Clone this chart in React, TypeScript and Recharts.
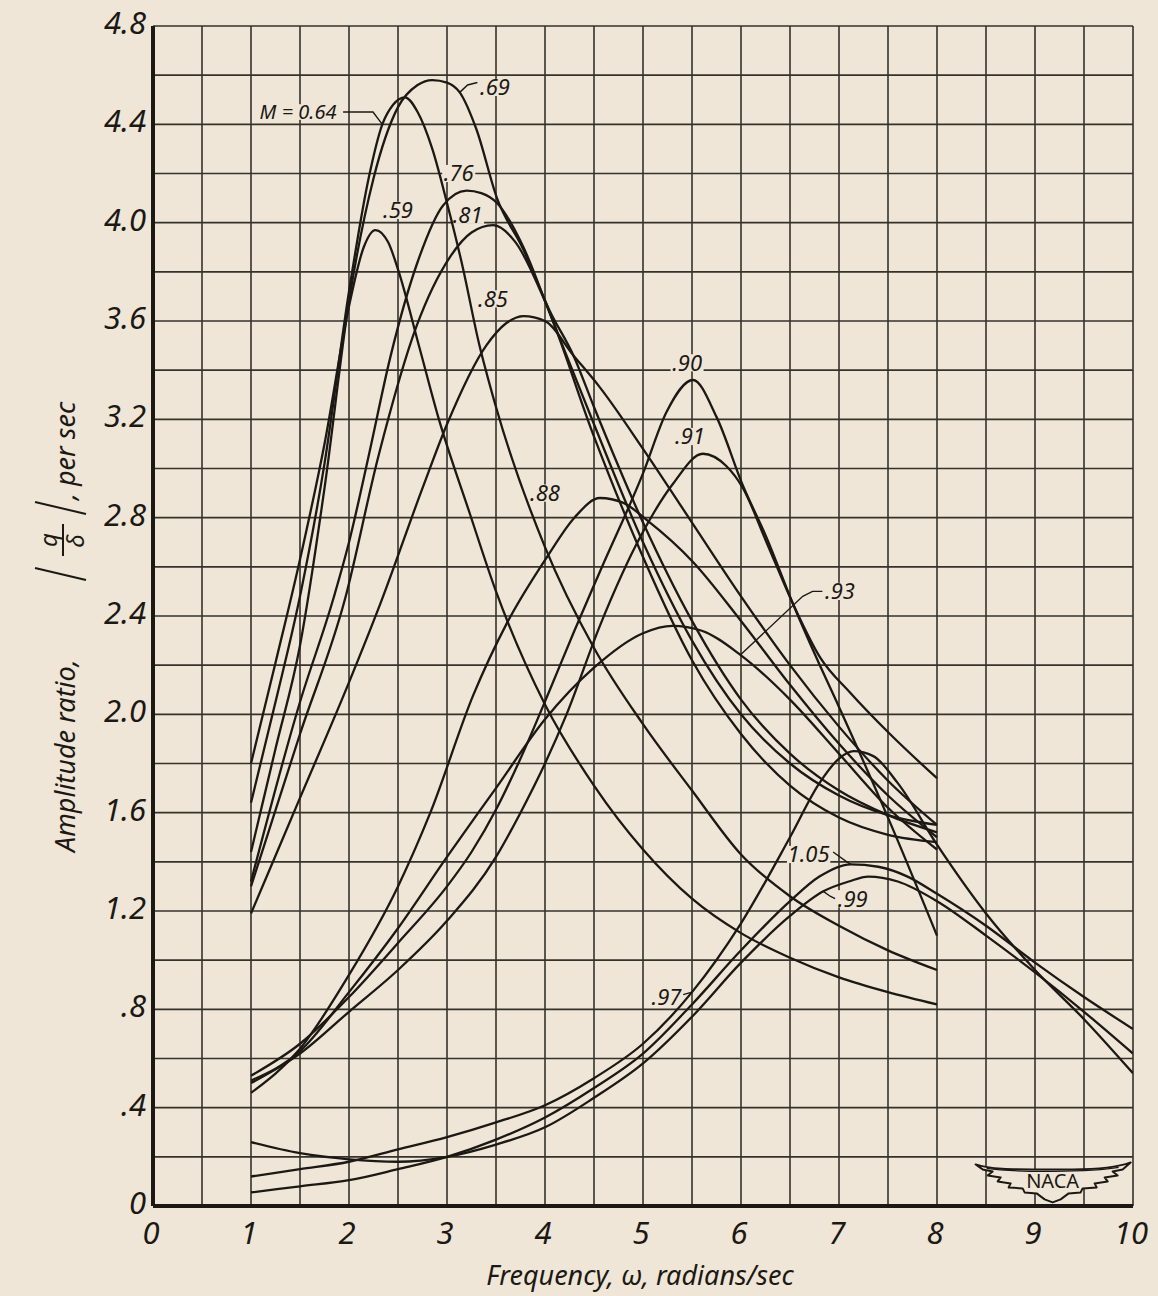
import React from 'react';
import { LineChart, Line, XAxis, YAxis, CartesianGrid, ReferenceDot } from 'recharts';

const PAPER = '#efe6d7';
const INK = '#1c1915';
const GRID_INK = '#34322b';
const FONT = '"Noto Sans", "DejaVu Sans", sans-serif';

// Axis ticks and grid rulings
const FREQ_TICKS = [0, 1, 2, 3, 4, 5, 6, 7, 8, 9, 10];
const AMP_TICKS = [0, 0.4, 0.8, 1.2, 1.6, 2.0, 2.4, 2.8, 3.2, 3.6, 4.0, 4.4, 4.8];
const GRID_FREQ = [0, 0.5, 1, 1.5, 2, 2.5, 3, 3.5, 4, 4.5, 5, 5.5, 6, 6.5, 7, 7.5, 8, 8.5, 9, 9.5, 10];
const GRID_AMP = [0, 0.2, 0.4, 0.6, 0.8, 1.0, 1.2, 1.4, 1.6, 1.8, 2.0, 2.2, 2.4, 2.6, 2.8, 3.0, 3.2, 3.4, 3.6, 3.8, 4.0, 4.2, 4.4, 4.6, 4.8];

type Pt = [number, number];

// Amplitude ratio |q/delta| vs frequency omega, one curve per Mach number
const m059: Pt[] = [[1.0, 1.80], [1.25, 2.21], [1.5, 2.63], [1.75, 3.10], [2.0, 3.66], [2.15, 3.90], [2.27, 3.97], [2.4, 3.92], [2.5, 3.81], [2.72, 3.49], [2.91, 3.21], [3.23, 2.82], [3.5, 2.50], [4.0, 2.04], [4.5, 1.71], [5.0, 1.45], [5.5, 1.25], [6.0, 1.11], [6.5, 1.01], [7.0, 0.93], [7.5, 0.87], [8.0, 0.82]];
const m064: Pt[] = [[1.0, 1.64], [1.25, 2.05], [1.5, 2.48], [1.75, 3.02], [2.0, 3.72], [2.2, 4.18], [2.34, 4.40], [2.45, 4.48], [2.57, 4.51], [2.7, 4.45], [2.85, 4.30], [3.0, 4.08], [3.16, 3.82], [3.32, 3.52], [3.5, 3.25], [4.0, 2.68], [4.5, 2.27], [5.0, 1.96], [5.5, 1.69], [6.0, 1.43], [6.5, 1.26], [7.0, 1.14], [7.5, 1.04], [8.0, 0.96]];
const m069: Pt[] = [[1.0, 1.44], [1.25, 1.86], [1.5, 2.28], [1.75, 2.92], [2.0, 3.68], [2.25, 4.18], [2.5, 4.47], [2.7, 4.56], [2.85, 4.58], [3.0, 4.57], [3.13, 4.53], [3.3, 4.38], [3.51, 4.10], [3.78, 3.89], [4.05, 3.64], [4.29, 3.46], [4.5, 3.25], [5.0, 2.78], [5.5, 2.38], [6.0, 2.06], [6.5, 1.84], [7.0, 1.69], [7.5, 1.59], [8.0, 1.52]];
const m076: Pt[] = [[1.0, 1.32], [1.5, 2.05], [1.84, 2.47], [2.0, 2.70], [2.2, 3.05], [2.42, 3.45], [2.7, 3.84], [2.96, 4.07], [3.2, 4.13], [3.35, 4.12], [3.51, 4.08], [3.78, 3.90], [4.05, 3.63], [4.5, 3.18], [5.0, 2.70], [5.5, 2.30], [6.0, 2.00], [6.5, 1.80], [7.0, 1.67], [7.5, 1.59], [8.0, 1.55]];
const m081: Pt[] = [[1.0, 1.30], [1.5, 1.92], [1.96, 2.47], [2.3, 3.05], [2.69, 3.58], [3.03, 3.86], [3.25, 3.96], [3.47, 3.99], [3.7, 3.92], [4.0, 3.68], [4.5, 3.13], [5.0, 2.64], [5.5, 2.22], [6.0, 1.92], [6.5, 1.71], [7.0, 1.58], [7.5, 1.51], [8.0, 1.48]];
const m085: Pt[] = [[1.0, 1.19], [1.5, 1.66], [2.0, 2.13], [2.32, 2.45], [2.75, 2.92], [3.0, 3.18], [3.4, 3.50], [3.6, 3.59], [3.78, 3.62], [4.0, 3.60], [4.29, 3.46], [4.56, 3.33], [5.0, 3.08], [5.5, 2.78], [6.0, 2.48], [6.5, 2.20], [7.0, 1.95], [7.5, 1.73], [8.0, 1.55]];
const m088: Pt[] = [[1.0, 0.46], [1.5, 0.64], [2.0, 0.94], [2.5, 1.30], [2.83, 1.60], [3.27, 2.08], [3.61, 2.37], [4.02, 2.64], [4.3, 2.80], [4.56, 2.88], [4.8, 2.86], [5.04, 2.79], [5.51, 2.62], [6.0, 2.38], [6.5, 2.12], [7.0, 1.88], [7.5, 1.67], [8.0, 1.50]];
const m090: Pt[] = [[1.0, 0.53], [1.5, 0.66], [2.0, 0.85], [2.5, 1.07], [3.0, 1.30], [3.25, 1.44], [3.51, 1.62], [3.75, 1.82], [4.05, 2.10], [4.3, 2.34], [4.56, 2.58], [5.0, 2.98], [5.24, 3.23], [5.51, 3.36], [5.75, 3.21], [6.02, 2.93], [6.26, 2.72], [6.53, 2.45], [6.77, 2.23], [7.0, 2.03], [7.5, 1.58], [8.0, 1.10]];
const m091: Pt[] = [[1.0, 0.50], [1.5, 0.62], [2.0, 0.79], [2.5, 0.96], [3.0, 1.16], [3.5, 1.42], [3.75, 1.60], [4.0, 1.80], [4.22, 2.00], [4.56, 2.36], [4.97, 2.72], [5.31, 2.94], [5.61, 3.06], [5.85, 3.01], [6.02, 2.92], [6.26, 2.70], [6.53, 2.45], [6.81, 2.23], [7.11, 2.09], [7.52, 1.92], [8.0, 1.74]];
const m093: Pt[] = [[1.0, 0.51], [1.5, 0.63], [2.0, 0.87], [2.5, 1.13], [3.0, 1.42], [3.32, 1.60], [3.5, 1.70], [4.0, 1.98], [4.5, 2.19], [5.0, 2.33], [5.3, 2.36], [5.6, 2.34], [6.0, 2.24], [6.5, 2.06], [7.0, 1.84], [7.5, 1.62], [8.0, 1.45]];
const m097: Pt[] = [[1.0, 0.12], [1.5, 0.15], [2.0, 0.18], [2.5, 0.23], [3.0, 0.28], [3.5, 0.34], [4.0, 0.41], [4.5, 0.52], [5.0, 0.66], [5.5, 0.87], [6.0, 1.15], [6.5, 1.50], [6.8, 1.72], [7.0, 1.82], [7.15, 1.85], [7.35, 1.83], [7.6, 1.72], [8.0, 1.47], [8.5, 1.19], [9.0, 0.96], [9.5, 0.76], [10.0, 0.54]];
const m099: Pt[] = [[1.0, 0.26], [1.5, 0.215], [2.0, 0.19], [2.5, 0.18], [3.0, 0.20], [3.5, 0.25], [4.0, 0.32], [4.5, 0.44], [5.0, 0.58], [5.5, 0.77], [6.0, 0.99], [6.5, 1.18], [6.84, 1.28], [7.1, 1.32], [7.3, 1.34], [7.6, 1.32], [8.0, 1.24], [8.5, 1.10], [9.0, 0.95], [9.5, 0.79], [10.0, 0.62]];
const m105: Pt[] = [[1.0, 0.055], [1.5, 0.08], [2.0, 0.105], [2.5, 0.15], [3.0, 0.20], [3.5, 0.27], [4.0, 0.36], [4.5, 0.48], [5.0, 0.62], [5.5, 0.82], [6.0, 1.04], [6.5, 1.24], [6.8, 1.34], [7.12, 1.39], [7.4, 1.38], [7.7, 1.34], [8.0, 1.27], [8.5, 1.14], [9.0, 0.99], [9.5, 0.85], [10.0, 0.72]];

const CURVES: { name: string; pts: Pt[] }[] = [
  { name: '0.59', pts: m059 }, { name: '0.64', pts: m064 }, { name: '0.69', pts: m069 },
  { name: '0.76', pts: m076 }, { name: '0.81', pts: m081 }, { name: '0.85', pts: m085 },
  { name: '0.88', pts: m088 }, { name: '0.90', pts: m090 }, { name: '0.91', pts: m091 },
  { name: '0.93', pts: m093 }, { name: '0.97', pts: m097 }, { name: '0.99', pts: m099 },
  { name: '1.05', pts: m105 },
];

// Curve call-outs (centre of the text) and their leader lines
const CALLOUTS: { text: string; w: number; a: number; size: number }[] = [
  { text: 'M = 0.64', w: 1.48, a: 4.45, size: 20 },
  { text: '.69', w: 3.49, a: 4.55, size: 22 },
  { text: '.59', w: 2.5, a: 4.05, size: 22 },
  { text: '.76', w: 3.12, a: 4.2, size: 22 },
  { text: '.81', w: 3.21, a: 4.03, size: 22 },
  { text: '.85', w: 3.47, a: 3.69, size: 22 },
  { text: '.88', w: 4.0, a: 2.9, size: 22 },
  { text: '.90', w: 5.45, a: 3.43, size: 22 },
  { text: '.91', w: 5.48, a: 3.13, size: 22 },
  { text: '.93', w: 7.01, a: 2.5, size: 22 },
  { text: '1.05', w: 6.69, a: 1.43, size: 22 },
  { text: '.99', w: 7.14, a: 1.25, size: 22 },
  { text: '.97', w: 5.24, a: 0.85, size: 22 },
];

const LEADERS: Pt[][] = [
  [[1.94, 4.45], [2.245, 4.45], [2.34, 4.40]],
  [[3.31, 4.57], [3.21, 4.56], [3.13, 4.53]],
  [[6.83, 2.50], [6.73, 2.50], [6.63, 2.48], [5.99, 2.24]],
  [[6.94, 1.44], [7.08, 1.40], [7.12, 1.39]],
  [[6.96, 1.25], [6.91, 1.26], [6.84, 1.28]],
  [[5.41, 0.86], [5.5, 0.87]],
];

const LOGO_AT = { w: 9.18, a: 0.1 };

const toRows = (pts: Pt[]) => pts.map(([w, a]) => ({ w, a }));

const fmtAmp = (v: number) => (v === 0 ? '0' : v < 1 ? '.' + Math.round(v * 10) : v.toFixed(1));

function XTick(props: any) {
  const { x, y, payload } = props;
  return (
    <text x={x - 2} y={y + 38} textAnchor="middle" fontSize={31} fontStyle="italic" fontFamily={FONT} fill={INK}>
      {payload.value}
    </text>
  );
}

function YTick(props: any) {
  const { x, y, payload } = props;
  return (
    <text x={x - 7} y={y + 8} textAnchor="end" fontSize={31} fontStyle="italic" fontFamily={FONT} fill={INK}>
      {fmtAmp(payload.value)}
    </text>
  );
}

function XTitle(props: any) {
  const vb = props.viewBox || { x: 153, y: 1206, width: 980, height: 90 };
  return (
    <text x={vb.x + vb.width / 2 - 3} y={vb.y + 79} textAnchor="middle" fontSize={27} fontStyle="italic" fontFamily={FONT} fill={INK}>
      Frequency, ω, radians/sec
    </text>
  );
}

function YTitle(props: any) {
  const vb = props.viewBox || { x: 0, y: 26, width: 153, height: 1180 };
  const cx = vb.x + 62;
  const cy = vb.y + vb.height / 2;
  const common = { fontStyle: 'italic' as const, fontFamily: FONT, fill: INK };
  return (
    <g transform={`translate(${cx},${cy}) rotate(-90)`}>
      <text x={-236} y={13} fontSize={27} {...common}>Amplitude ratio,</text>
      <line x1={36} y1={24} x2={48} y2={-27} stroke={INK} strokeWidth={2} />
      <text x={76} y={-5} textAnchor="middle" fontSize={24} {...common}>q</text>
      <line x1={60} y1={1} x2={92} y2={1} stroke={INK} strokeWidth={2} />
      <text x={75} y={22} textAnchor="middle" fontSize={24} {...common}>δ</text>
      <line x1={102} y1={24} x2={114} y2={-27} stroke={INK} strokeWidth={2} />
      <text x={116} y={13} fontSize={27} {...common}>, per sec</text>
    </g>
  );
}

function calloutShape(text: string, size: number) {
  return (props: any) => {
    const { cx, cy } = props;
    if (cx == null || cy == null) return <g />;
    const wdt = text.length * size * 0.47 + 2;
    const hgt = size * 0.78;
    return (
      <g>
        <rect x={cx - wdt / 2} y={cy - hgt / 2} width={wdt} height={hgt} fill={PAPER} />
        <text x={cx} y={cy + size * 0.36} textAnchor="middle" fontSize={size} fontStyle="italic" fontFamily={FONT} fill={INK}>
          {text}
        </text>
      </g>
    );
  };
}

function logoShape(props: any) {
  const { cx, cy } = props;
  if (cx == null || cy == null) return <g />;
  const wing =
    'M -77 -17 C -62 -12, -40 -12, -20 -12 L 20 -12 C 42 -12, 62 -13, 78 -19 ' +
    'L 70 -12 L 60 -10 L 65 -6 L 52 -4 L 55 0 L 42 2 L 44 6 L 30 7 L 28 11 L 16 12 L 8 18 L 0 21 ' +
    'L -8 18 L -16 12 L -28 11 L -30 7 L -44 6 L -42 2 L -55 0 L -52 -4 L -65 -6 L -60 -10 L -70 -12 Z';
  return (
    <g transform={`translate(${cx},${cy})`}>
      <path d={wing} fill={PAPER} stroke={INK} strokeWidth={2} strokeLinejoin="round" />
      <path d="M -66 -13 C -40 -9, 40 -9, 66 -14" fill="none" stroke={INK} strokeWidth={1.2} />
      <text x={0} y={7} textAnchor="middle" fontSize={20} fontFamily={FONT} fill={INK}>NACA</text>
    </g>
  );
}

export default function App() {
  return (
    <div style={{ position: 'absolute', left: 0, top: 0, width: 1158, height: 1296, background: PAPER }}>
      <LineChart width={1158} height={1296} margin={{ top: 26, right: 25, bottom: 0, left: 0 }}>
        <CartesianGrid
          horizontalValues={GRID_AMP}
          verticalValues={GRID_FREQ}
          stroke={GRID_INK}
          strokeWidth={1.6}
        />
        <XAxis
          type="number"
          dataKey="w"
          domain={[0, 10]}
          ticks={FREQ_TICKS}
          height={90}
          tickSize={0}
          tickMargin={0}
          tickLine={false}
          axisLine={{ stroke: INK, strokeWidth: 4 }}
          tick={<XTick />}
          label={<XTitle />}
          allowDataOverflow
        />
        <YAxis
          type="number"
          domain={[0, 4.8]}
          ticks={AMP_TICKS}
          width={153}
          tickSize={0}
          tickMargin={0}
          tickLine={false}
          axisLine={{ stroke: INK, strokeWidth: 4 }}
          tick={<YTick />}
          label={<YTitle />}
          allowDataOverflow
        />
        {CALLOUTS.map((c) => (
          <ReferenceDot key={'c' + c.text} x={c.w} y={c.a} r={0} zIndex={-50} shape={calloutShape(c.text, c.size)} />
        ))}
        <ReferenceDot x={LOGO_AT.w} y={LOGO_AT.a} r={0} zIndex={-50} shape={logoShape} />
        {CURVES.map((c) => (
          <Line
            key={c.name}
            data={toRows(c.pts)}
            dataKey="a"
            type="monotone"
            stroke={INK}
            strokeWidth={2.3}
            dot={false}
            activeDot={false}
            isAnimationActive={false}
          />
        ))}
        {LEADERS.map((l, i) => (
          <Line
            key={'lead' + i}
            data={toRows(l)}
            dataKey="a"
            type="linear"
            stroke={INK}
            strokeWidth={1.4}
            dot={false}
            activeDot={false}
            isAnimationActive={false}
          />
        ))}
      </LineChart>
    </div>
  );
}
